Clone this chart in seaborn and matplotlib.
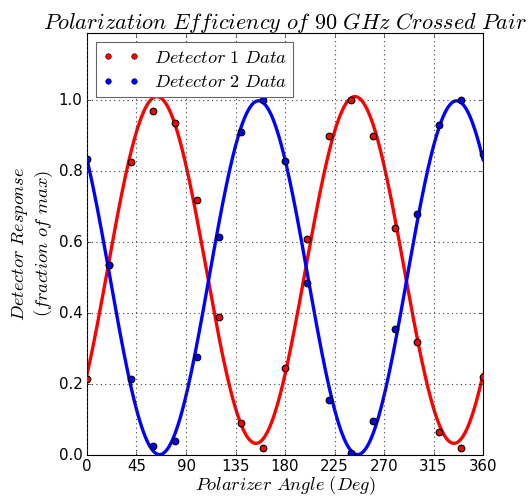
import matplotlib

matplotlib.use("Agg")
import matplotlib.pyplot as plt
import numpy as np
import pandas as pd
import seaborn as sns
from matplotlib.lines import Line2D

# polarizer angle (deg) for each measurement
angles = [0, 20, 40, 60, 80, 100, 120, 140, 160, 180,
          200, 220, 240, 260, 280, 300, 320, 340, 360]

# normalised detector responses
det1 = [0.215, 0.535, 0.825, 0.97, 0.935, 0.72, 0.39, 0.09, 0.02, 0.245,
        0.61, 0.90, 1.0, 0.90, 0.64, 0.32, 0.065, 0.02, 0.22]
det2 = [0.835, 0.535, 0.215, 0.025, 0.04, 0.275, 0.615, 0.91, 1.0, 0.83,
        0.485, 0.155, 0.005, 0.095, 0.355, 0.68, 0.93, 1.0, 0.85]

x_ticks = [0, 45, 90, 135, 180, 225, 270, 315, 360]
y_ticks = [0.0, 0.2, 0.4, 0.6, 0.8, 1.0]


def fit_malus(theta_deg, values, theta_out):
    # least-squares fit of a + b*cos(2t) + c*sin(2t)
    t = np.radians(np.asarray(theta_deg, dtype=float))
    design = np.column_stack([np.ones_like(t), np.cos(2 * t), np.sin(2 * t)])
    coef, *_ = np.linalg.lstsq(design, np.asarray(values), rcond=None)
    to = np.radians(theta_out)
    return coef[0] + coef[1] * np.cos(2 * to) + coef[2] * np.sin(2 * to)


def main() -> None:
    plt.style.use("classic")
    plt.rcParams["mathtext.fontset"] = "cm"
    plt.rcParams["font.family"] = ["DejaVu Sans"]

    points = pd.DataFrame({"angle": angles, "det1": det1, "det2": det2})
    theta = np.linspace(0, 360, 721)
    fits = pd.DataFrame({
        "angle": theta,
        "det1": fit_malus(angles, det1, theta),
        "det2": fit_malus(angles, det2, theta),
    })

    fig = plt.figure(figsize=(6.65, 6.2125), dpi=80)
    ax = fig.add_axes([0.1635, 0.0845, 0.7445, 0.849])

    sns.lineplot(data=fits, x="angle", y="det1", color="red", linewidth=3, ax=ax, zorder=2)
    sns.lineplot(data=fits, x="angle", y="det2", color="blue", linewidth=3, ax=ax, zorder=2)
    sns.scatterplot(data=points, x="angle", y="det1", color="red", edgecolor="black",
                    s=36, linewidth=1, ax=ax, zorder=3)
    sns.scatterplot(data=points, x="angle", y="det2", color="blue", edgecolor="black",
                    s=36, linewidth=1, ax=ax, zorder=3)

    ax.set_xlim(0, 360)
    ax.set_ylim(0, 1.19)
    ax.set_xticks(x_ticks)
    ax.set_yticks(y_ticks)
    ax.tick_params(labelsize=13.5)
    ax.grid(True, color="0.25", linestyle=":", linewidth=1)

    ax.set_title(r"$Polarization\ Efficiency\ of\ 90\ GHz\ Crossed\ Pair$", fontsize=20, pad=4)
    ax.set_xlabel(r"$Polarizer\ Angle\ (Deg)$", fontsize=16.5, labelpad=0)
    ax.set_ylabel("$Detector\\ Response$\n$(fraction\\ of\\ max)$", fontsize=16.5, labelpad=3)

    handles = [
        Line2D([], [], linestyle="none", marker="o", markersize=5,
               markerfacecolor="red", markeredgecolor="black"),
        Line2D([], [], linestyle="none", marker="o", markersize=5,
               markerfacecolor="blue", markeredgecolor="black"),
    ]
    leg = ax.legend(handles, [r"$Detector\ 1\ Data$", r"$Detector\ 2\ Data$"],
                    loc="upper left", numpoints=2, fontsize=16.5,
                    borderpad=0.35, labelspacing=0.35)
    leg.get_frame().set_edgecolor("0.4")

    fig.savefig("out.png", dpi=80)
    plt.close(fig)


if __name__ == "__main__":
    main()
